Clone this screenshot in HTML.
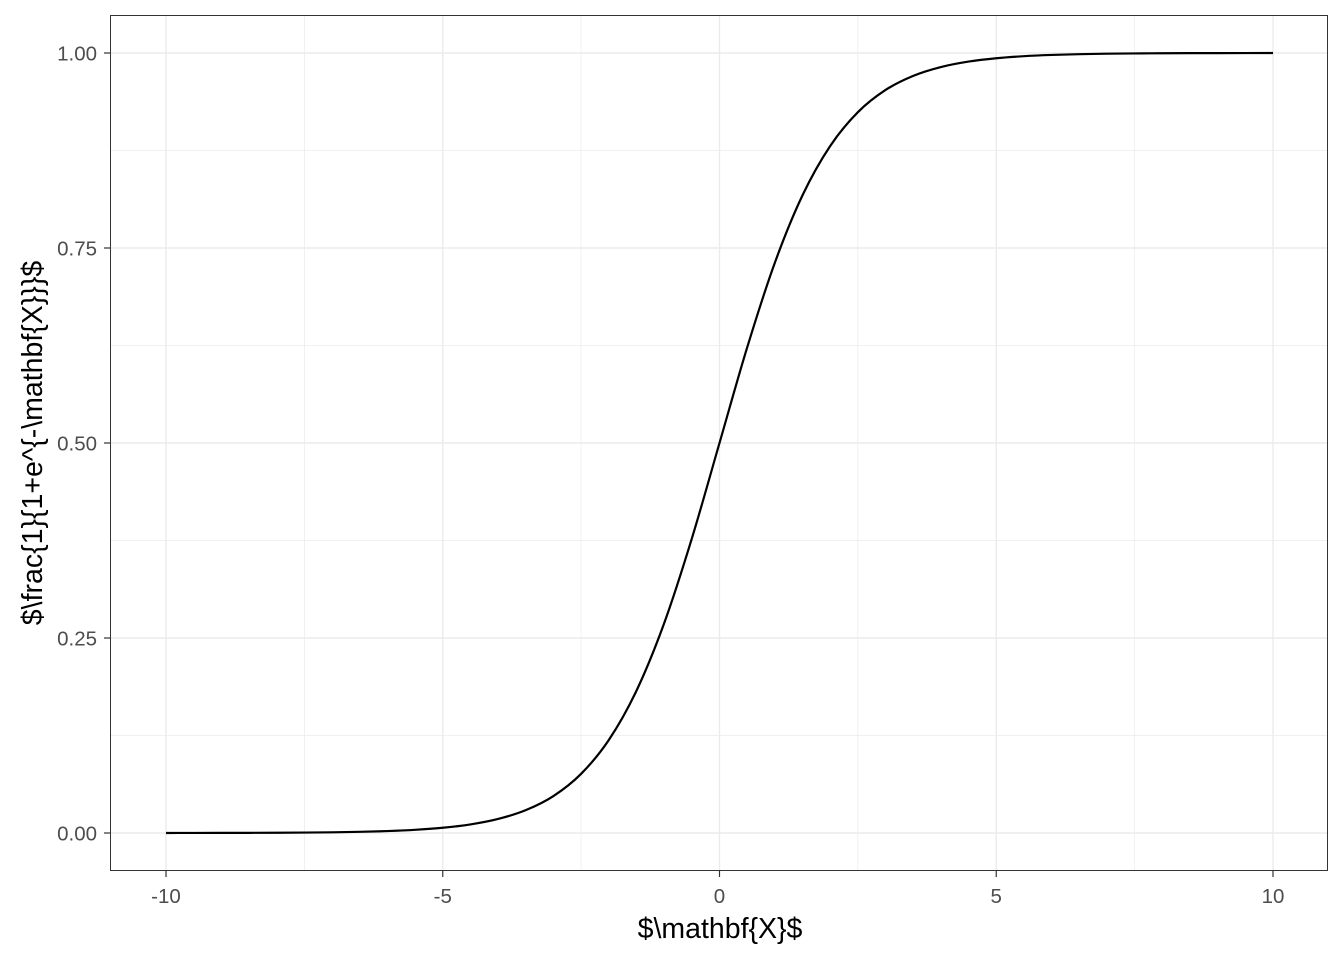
<!DOCTYPE html>
<html><head><meta charset="utf-8"><style>
html,body{margin:0;padding:0;background:#fff;}
svg{display:block;font-family:"Liberation Sans",sans-serif;}
</style></head><body>
<svg id="chart" width="1344" height="960">
<rect x="110.5" y="15.5" width="1217" height="855" fill="#fff"/>
<g id="grid"></g>
<g id="series"></g>
<rect x="110.5" y="15.5" width="1217" height="855" fill="none" stroke="#333" stroke-width="1"/>
<g id="axes"></g>
<text x="720" y="938" text-anchor="middle" font-size="28.5" fill="#000">$\mathbf{X}$</text>
<text transform="translate(42,443) rotate(-90)" text-anchor="middle" font-size="28.5" fill="#000">$\frac{1}{1+e^{-\mathbf{X}}}$</text>
</svg>
<script>
const xVals = [-10,-9.5,-9,-8.5,-8,-7.5,-7,-6.5,-6,-5.5,-5,-4.5,-4,-3.5,-3,-2.5,-2,-1.5,-1,-0.5,0,0.5,1,1.5,2,2.5,3,3.5,4,4.5,5,5.5,6,6.5,7,7.5,8,8.5,9,9.5,10];
const yVals = [0.0000454,0.0000748,0.000123,0.000203,0.000335,0.000553,0.000911,0.0015,0.00247,0.00407,0.00669,0.0110,0.0180,0.0293,0.0474,0.0759,0.1192,0.1824,0.2689,0.3775,0.5,0.6225,0.7311,0.8176,0.8808,0.9241,0.9526,0.9707,0.9820,0.9890,0.99331,0.99593,0.99753,0.9985,0.999089,0.999447,0.999665,0.999797,0.999877,0.999925,0.9999546];
const xTicks = [-10,-5,0,5,10];
const xTickLabels = ["-10","-5","0","5","10"];
const xMinor = [-7.5,-2.5,2.5,7.5];
const yTicks = [0,0.25,0.5,0.75,1];
const yTickLabels = ["0.00","0.25","0.50","0.75","1.00"];
const yMinor = [0.125,0.375,0.625,0.875];

const NS="http://www.w3.org/2000/svg";
const sx = v => 166 + (v+10)*(1273-166)/20;
const sy = v => 833 - v*(833-53);
function mk(tag, attrs, parent){const e=document.createElementNS(NS,tag);for(const k in attrs)e.setAttribute(k,attrs[k]);parent.appendChild(e);return e;}
const grid=document.getElementById('grid'), axes=document.getElementById('axes'), series=document.getElementById('series');
xMinor.forEach(v=>{const l=mk('line',{x1:sx(v),x2:sx(v),y1:15,y2:871,stroke:'#ebebeb','stroke-width':0.7},grid);

});
yMinor.forEach(v=>{const l=mk('line',{x1:110,x2:1328,y1:sy(v),y2:sy(v),stroke:'#ebebeb','stroke-width':0.7},grid);

});
xTicks.forEach((v,i)=>{const l=mk('line',{x1:sx(v),x2:sx(v),y1:15,y2:871,stroke:'#ebebeb','stroke-width':1.4},grid);


const t=mk('line',{x1:sx(v),x2:sx(v),y1:871,y2:877,stroke:'#333','stroke-width':1.2},axes);


const tx=mk('text',{x:sx(v),y:903,'text-anchor':'middle','font-size':20.5,fill:'#4d4d4d'},axes);tx.textContent=xTickLabels[i];

});
yTicks.forEach((v,i)=>{const l=mk('line',{x1:110,x2:1328,y1:sy(v),y2:sy(v),stroke:'#ebebeb','stroke-width':1.4},grid);


const t=mk('line',{x1:104,x2:110,y1:sy(v),y2:sy(v),stroke:'#333','stroke-width':1.2},axes);


const tx=mk('text',{x:97,y:sy(v)+7.5,'text-anchor':'end','font-size':20.5,fill:'#4d4d4d'},axes);tx.textContent=yTickLabels[i];

});
const P=xVals.map((x,i)=>[sx(x),sy(yVals[i])]);
const n=P.length, d=[], m=[];
for(let i=0;i<n-1;i++)d.push((P[i+1][1]-P[i][1])/(P[i+1][0]-P[i][0]));
m[0]=d[0];m[n-1]=d[n-2];
for(let i=1;i<n-1;i++)m[i]=(d[i-1]*d[i]<=0)?0:(d[i-1]+d[i])/2;
let path='M'+P[0][0]+','+P[0][1];
for(let i=0;i<n-1;i++){const h=(P[i+1][0]-P[i][0])/3;
path+=` C${P[i][0]+h},${P[i][1]+m[i]*h} ${P[i+1][0]-h},${P[i+1][1]-m[i+1]*h} ${P[i+1][0]},${P[i+1][1]}`;}
const line=mk('path',{d:path,fill:'none',stroke:'#000','stroke-width':2.2},series);


</script>
</body></html>
